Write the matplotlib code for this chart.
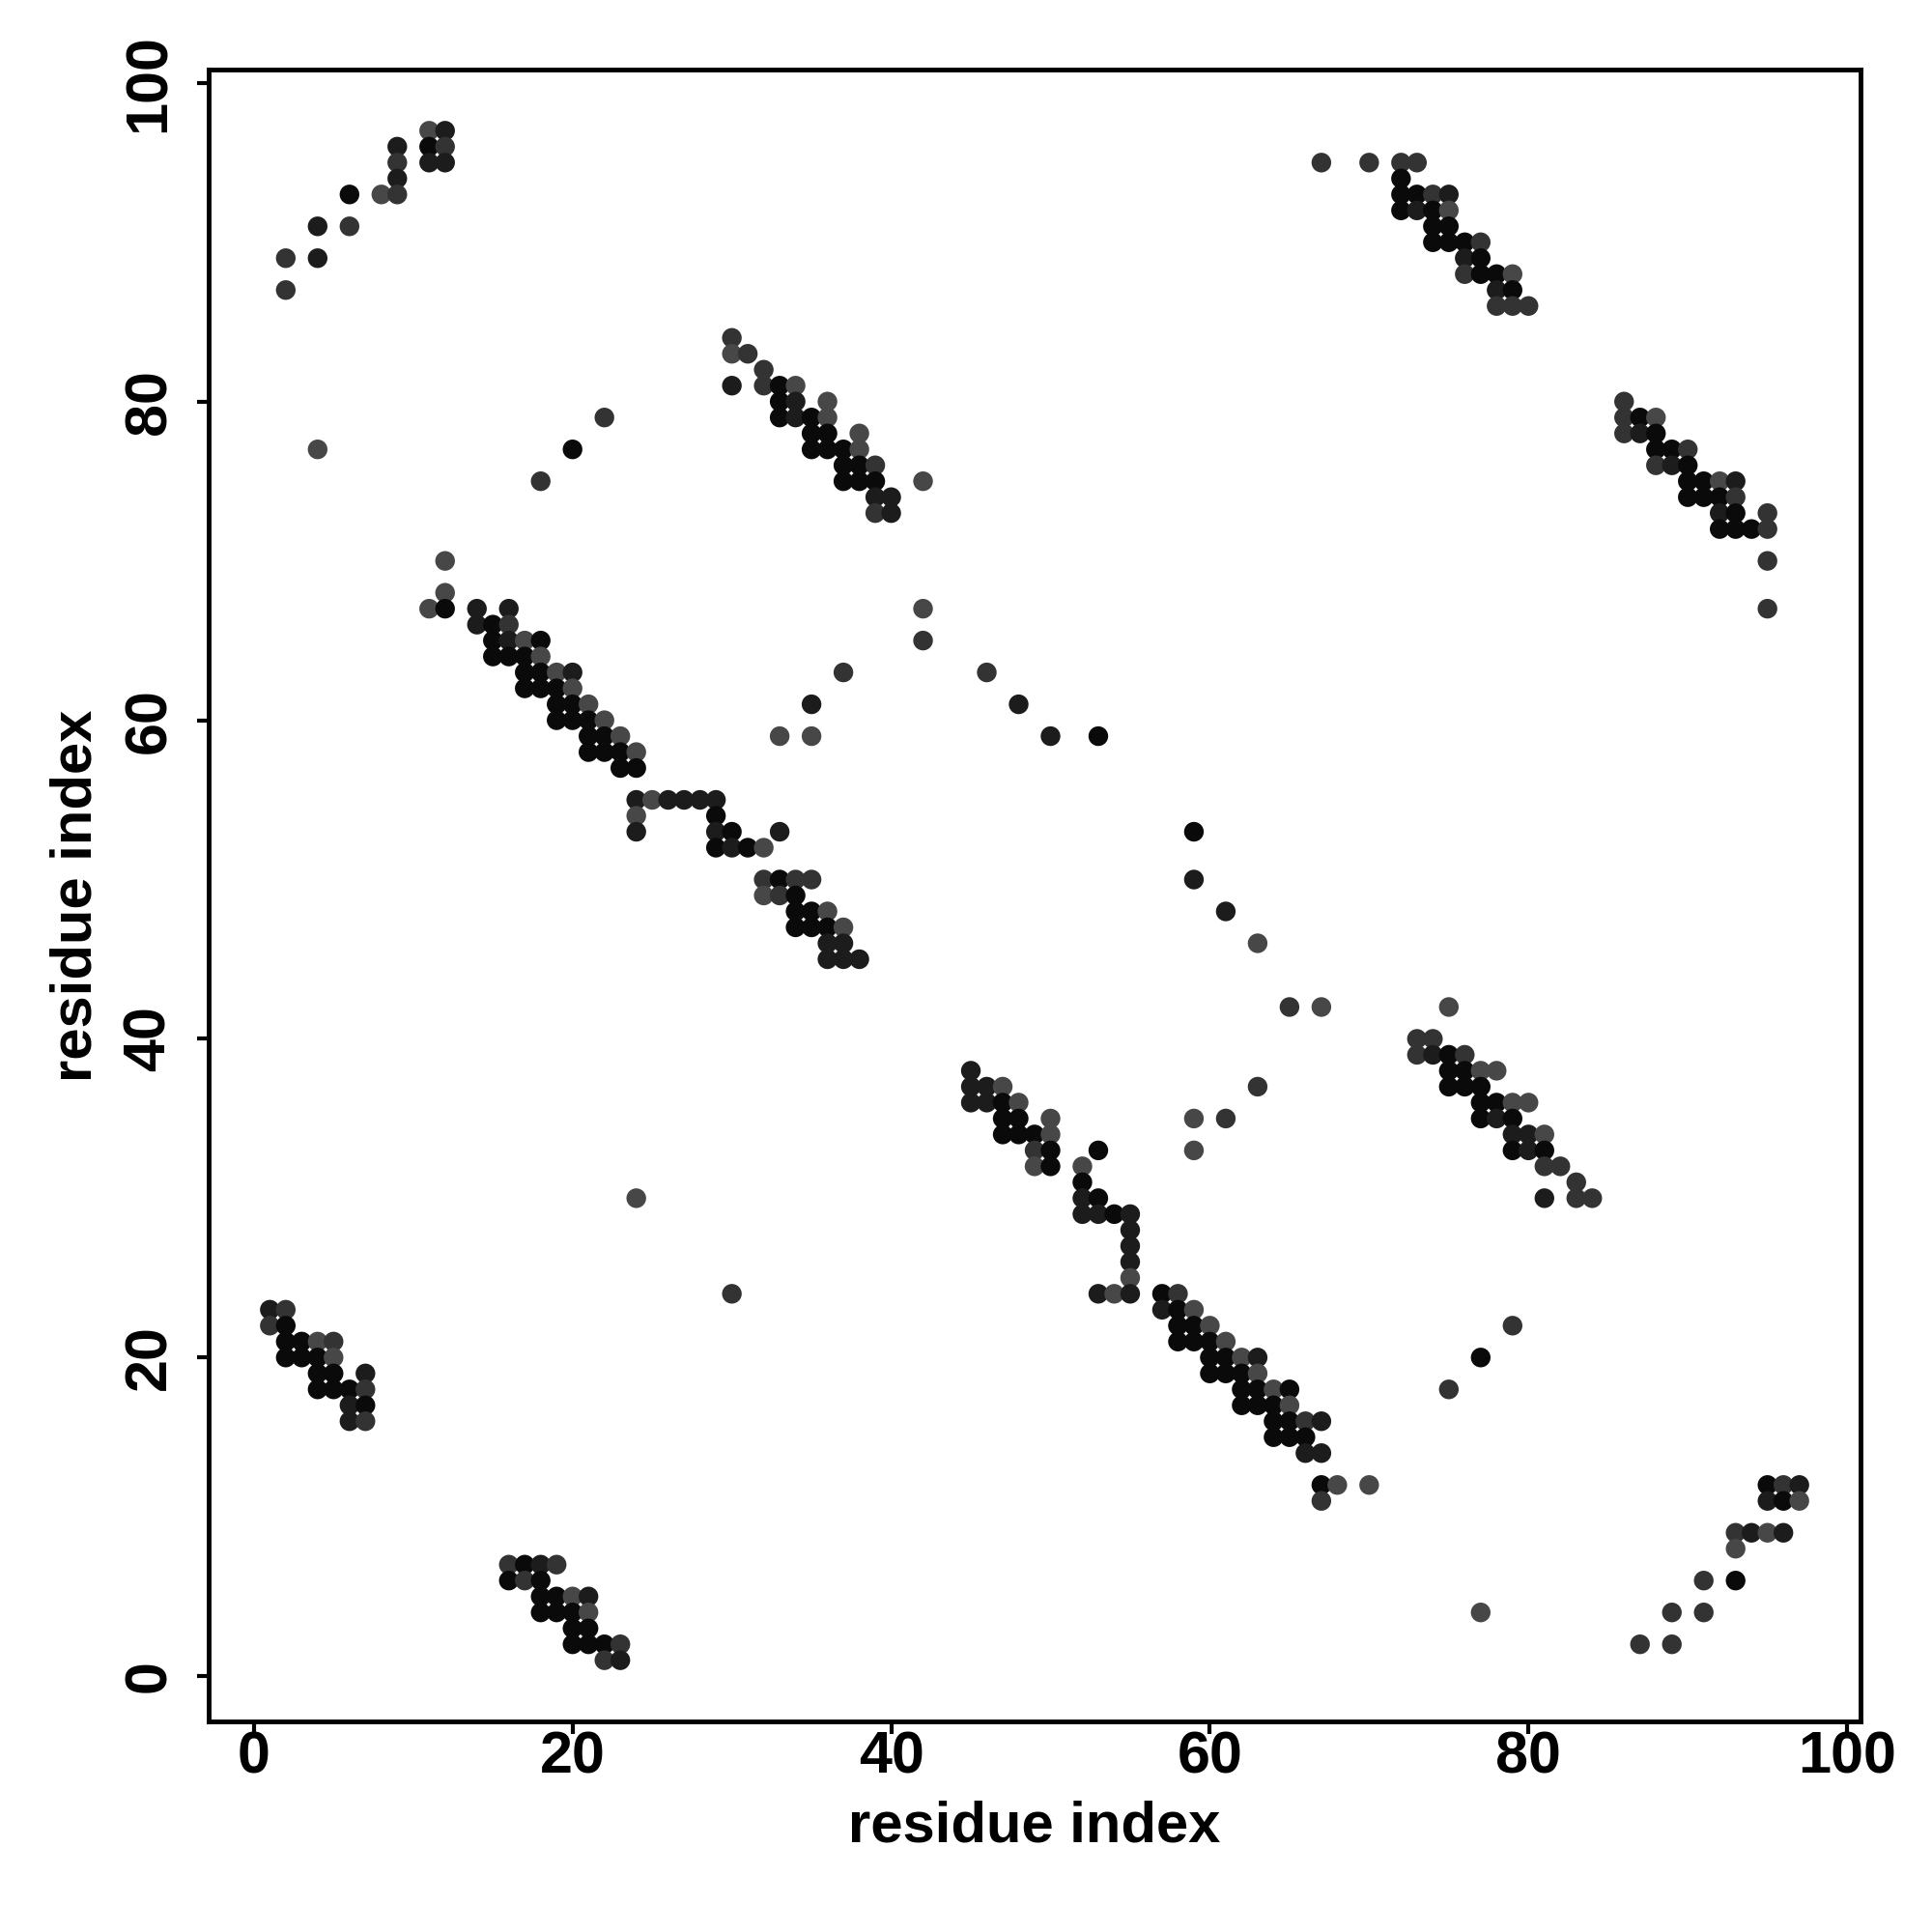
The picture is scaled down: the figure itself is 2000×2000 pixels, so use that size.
import numpy as np
import matplotlib
matplotlib.use("Agg")
import matplotlib.pyplot as plt

plt.rcParams['font.family'] = ['Liberation Sans', 'DejaVu Sans']
plt.rcParams['font.weight'] = 'bold'

# contact map: (residue i, residue j, grey level of the dot)
# grey levels: k = near black ... l = mid grey
K, D, M, L = 0.04, 0.11, 0.20, 0.28

block_top_left = [
    (11, 97, L), (12, 97, D), (9, 96, D), (11, 96, K), (12, 96, M),
    (9, 95, M), (11, 95, D), (12, 95, D), (9, 94, D),
    (6, 93, K), (8, 93, L), (9, 93, M), (4, 91, D), (6, 91, M),
    (2, 89, M), (4, 89, D), (2, 87, M),
    (22, 79, M), (20, 77, K), (18, 75, M), (4, 77, L),
]

block_diag_upper = [
    (12, 70, L), (12, 68, L), (11, 67, L), (12, 67, K), (14, 67, D), (16, 67, D),
    (14, 66, D), (15, 66, K), (16, 66, M),
    (15, 65, K), (16, 65, D), (17, 65, L), (18, 65, K),
    (15, 64, K), (16, 64, K), (17, 64, K), (18, 64, L),
    (17, 63, K), (18, 63, K), (19, 63, L), (20, 63, D),
    (17, 62, K), (18, 62, K), (19, 62, K), (20, 62, L),
    (19, 61, K), (20, 61, K), (21, 61, L),
    (19, 60, K), (20, 60, K), (21, 60, K), (22, 60, L),
    (21, 59, K), (22, 59, K), (23, 59, L),
    (21, 58, K), (22, 58, K), (23, 58, K), (24, 58, L),
    (23, 57, K), (24, 57, K),
    (24, 55, D), (24, 54, L), (24, 53, D),
    (25, 55, L), (26, 55, D), (27, 55, D), (28, 55, D), (29, 55, D),
    (29, 54, K), (29, 53, D), (30, 53, K), (33, 53, D),
    (29, 52, K), (30, 52, D), (31, 52, K), (32, 52, L),
    (32, 50, M), (33, 50, K), (34, 50, M), (35, 50, M),
    (32, 49, L), (33, 49, M), (34, 49, K),
    (34, 48, K), (35, 48, K), (36, 48, L),
    (34, 47, K), (35, 47, K), (36, 47, K), (37, 47, L),
    (36, 46, D), (37, 46, D), (36, 45, D), (37, 45, D), (38, 45, D),
]

block_mid_upper = [
    (30, 84, M), (30, 83, L), (31, 83, M), (32, 82, M),
    (30, 81, D), (32, 81, M), (33, 81, K), (34, 81, L),
    (33, 80, K), (34, 80, D), (36, 80, L),
    (33, 79, K), (34, 79, D), (35, 79, K), (36, 79, L),
    (35, 78, K), (36, 78, K), (38, 78, L),
    (35, 77, K), (36, 77, K), (37, 77, K), (38, 77, L),
    (37, 76, K), (38, 76, K), (39, 76, M),
    (37, 75, K), (38, 75, K), (39, 75, K), (42, 75, L),
    (39, 74, D), (40, 74, D), (39, 73, M), (40, 73, D),
    (42, 67, L), (42, 65, M),
]

scattered = [
    (37, 63, M), (35, 61, D), (33, 59, L), (35, 59, L),
    (46, 63, M), (48, 61, D), (50, 59, D), (53, 59, K),
    (59, 53, K), (59, 50, D), (61, 48, D), (63, 46, L),
    (65, 42, M), (67, 42, L), (75, 42, L),
    (63, 37, M), (59, 35, L), (61, 35, M), (59, 33, L),
    (24, 30, L), (30, 24, M),
    (79, 22, M), (77, 20, K), (75, 18, M), (77, 4, L),
]

block_diag_lower = [
    (45, 38, D), (45, 37, D), (46, 37, D), (47, 37, L),
    (45, 36, D), (46, 36, D), (47, 36, K), (48, 36, L),
    (47, 35, K), (48, 35, K), (50, 35, L),
    (47, 34, K), (48, 34, K), (49, 34, K), (50, 34, L),
    (49, 33, M), (50, 33, K), (53, 33, K),
    (49, 32, L), (50, 32, K), (52, 32, L),
    (52, 31, K), (52, 30, D), (53, 30, K),
    (52, 29, D), (53, 29, D), (54, 29, K), (55, 29, D),
    (55, 28, D), (55, 27, D), (55, 26, D), (55, 25, L),
    (53, 24, D), (54, 24, L), (55, 24, D), (57, 24, K), (58, 24, M),
    (57, 23, D), (58, 23, K), (59, 23, L),
    (58, 22, K), (59, 22, K), (60, 22, L),
    (58, 21, K), (59, 21, K), (60, 21, K), (61, 21, L),
    (60, 20, K), (61, 20, K), (62, 20, L), (63, 20, D),
    (60, 19, K), (61, 19, K), (62, 19, K), (63, 19, L),
    (62, 18, K), (63, 18, K), (64, 18, L), (65, 18, K),
    (62, 17, K), (63, 17, K), (64, 17, K), (65, 17, L),
    (64, 16, K), (65, 16, K), (66, 16, M), (67, 16, D),
    (64, 15, K), (65, 15, K), (66, 15, K),
    (66, 14, D), (67, 14, D),
    (67, 12, K), (68, 12, L), (70, 12, L), (67, 11, M),
]

block_top_right = [
    (67, 95, M), (70, 95, M), (72, 95, M), (73, 95, M), (72, 94, K),
    (72, 93, K), (73, 93, K), (74, 93, M), (75, 93, D),
    (72, 92, K), (73, 92, D), (74, 92, K), (75, 92, L),
    (74, 91, K), (75, 91, K),
    (74, 90, K), (75, 90, K), (76, 90, K), (77, 90, M),
    (76, 89, D), (77, 89, K),
    (76, 88, M), (77, 88, K), (78, 88, K), (79, 88, L),
    (78, 87, D), (79, 87, K),
    (78, 86, M), (79, 86, M), (80, 86, M),
]

block_right_upper = [
    (86, 80, M), (86, 79, M), (87, 79, K), (88, 79, L),
    (86, 78, M), (87, 78, D), (88, 78, K),
    (88, 77, K), (89, 77, K), (90, 77, M),
    (88, 76, M), (89, 76, D), (90, 76, K),
    (90, 75, K), (91, 75, K), (92, 75, L), (93, 75, D),
    (90, 74, K), (91, 74, K), (92, 74, K), (93, 74, M),
    (92, 73, D), (93, 73, K), (95, 73, M),
    (92, 72, K), (93, 72, K), (94, 72, K), (95, 72, M),
    (95, 70, M), (95, 67, M),
]

block_right_mid = [
    (73, 40, M), (74, 40, M),
    (73, 39, M), (74, 39, D), (75, 39, K), (76, 39, M),
    (75, 38, K), (76, 38, K), (77, 38, L), (78, 38, L),
    (75, 37, K), (76, 37, K), (77, 37, K),
    (77, 36, K), (78, 36, K), (79, 36, L), (80, 36, L),
    (77, 35, K), (78, 35, D), (79, 35, K),
    (79, 34, D), (80, 34, D), (81, 34, L),
    (79, 33, K), (80, 33, D), (81, 33, K),
    (81, 32, M), (82, 32, M), (83, 31, M),
    (81, 30, D), (83, 30, M), (84, 30, M),
]

block_bottom_right = [
    (95, 12, K), (96, 12, M), (97, 12, D),
    (95, 11, D), (96, 11, K), (97, 11, L),
    (93, 9, M), (94, 9, D), (95, 9, L), (96, 9, D), (93, 8, L),
    (91, 6, M), (93, 6, K), (89, 4, M), (91, 4, M),
    (87, 2, M), (89, 2, M),
]

block_bottom_left = [
    (1, 23, D), (2, 23, M), (1, 22, M), (2, 22, K),
    (2, 21, K), (3, 21, K), (4, 21, L), (5, 21, M),
    (2, 20, K), (3, 20, K), (4, 20, K), (5, 20, L),
    (4, 19, K), (5, 19, K), (7, 19, D),
    (4, 18, K), (5, 18, K), (6, 18, K), (7, 18, M),
    (6, 17, D), (7, 17, K), (6, 16, D), (7, 16, M),
    (16, 7, M), (17, 7, K), (18, 7, D), (19, 7, M),
    (16, 6, K), (17, 6, M), (18, 6, K),
    (18, 5, K), (19, 5, K), (20, 5, L), (21, 5, D),
    (18, 4, K), (19, 4, K), (20, 4, K), (21, 4, L),
    (20, 3, K), (21, 3, K),
    (20, 2, K), (21, 2, K), (22, 2, K), (23, 2, M),
    (22, 1, M), (23, 1, D),
]

contacts = np.array(block_top_left + block_diag_upper + block_mid_upper + scattered
                    + block_diag_lower + block_top_right + block_right_upper
                    + block_right_mid + block_bottom_right + block_bottom_left)

fig = plt.figure(figsize=(20, 20), dpi=100)
ax = fig.add_axes([0.108, 0.109, 0.855, 0.855])

colors = [(g, g, g) for g in contacts[:, 2]]
ax.scatter(contacts[:, 0], contacts[:, 1], s=215, c=colors, edgecolors='none', zorder=3)

ax.set_xlim(-2.84, 100.84)
ax.set_ylim(-2.84, 100.84)
ax.set_xticks([0, 20, 40, 60, 80, 100])
ax.set_yticks([0, 20, 40, 60, 80, 100])
ax.tick_params(axis='both', labelsize=44, width=3, length=9)
ax.tick_params(axis='x', pad=-2)
ax.tick_params(axis='y', pad=14)
for lab in ax.get_yticklabels():
    lab.set_rotation(90)
    lab.set_va('center')
for lab in ax.get_xticklabels() + ax.get_yticklabels():
    lab.set_fontweight('bold')
for sp in ax.spines.values():
    sp.set_linewidth(3.5)

ax.set_xlabel("residue index", fontsize=43, fontweight='bold', va='center')
ax.set_ylabel("residue index", fontsize=43, fontweight='bold', va='center')
ax.xaxis.set_label_coords(0.5, -0.0637)
ax.yaxis.set_label_coords(-0.080, 0.5)

fig.savefig("out.png", dpi=100)
